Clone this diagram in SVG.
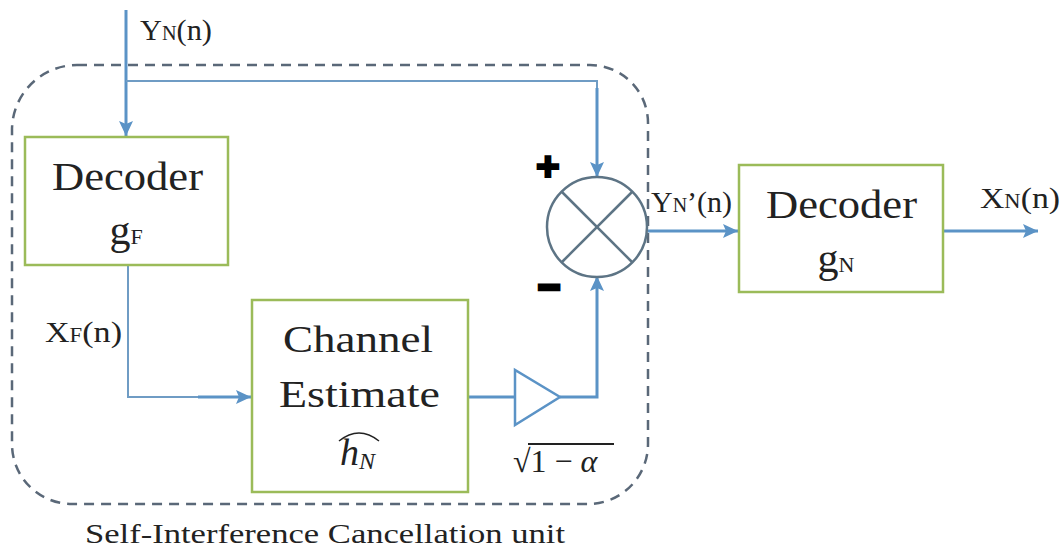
<svg xmlns="http://www.w3.org/2000/svg" width="1064" height="551" viewBox="0 0 1064 551">
<style>
.bg{fill:#ffffff}
.box{fill:#ffffff;stroke:#9bbb59;stroke-width:2.5}
.wire{fill:none;stroke:#5b93c6;stroke-width:3}
.thin{fill:none;stroke:#6f9cc4;stroke-width:2}
.dash{fill:none;stroke:#5a6878;stroke-width:2.5;stroke-dasharray:10 7}
text{font-family:'Liberation Serif','DejaVu Serif',serif}
.t{fill:#222222}
.sym{stroke:#5d7485;stroke-width:2.5;fill:#ffffff}
</style>
<defs>
<marker id="ah" markerUnits="userSpaceOnUse" markerWidth="16" markerHeight="14" refX="15" refY="7" orient="auto">
<path d="M0,0 L15,7 L0,14 L3,7 z" fill="#5b93c6"/>
</marker>
</defs>
<rect class="bg" x="0" y="0" width="1064" height="551"/>

<g id="sic-unit">
<path class="dash" d="M77,65 H590 A58,58 0 0 1 648,123 V444 A60,60 0 0 1 588,504 H72 A60,60 0 0 1 12,444 V130 A65,65 0 0 1 77,65 Z"/>
<text class="t" font-family="Liberation Serif, serif" x="85" y="543" font-size="27" textLength="480" lengthAdjust="spacingAndGlyphs">Self-Interference Cancellation unit</text>
</g>

<g id="connectors">
<path class="wire" d="M126,10 V136" marker-end="url(#ah)"/>
<path class="thin" d="M126,81 H597 V90"/>
<path class="wire" d="M597,88 V177" marker-end="url(#ah)"/>
<path class="thin" d="M128,265 V397 H200"/>
<path class="wire" d="M198,397 H251" marker-end="url(#ah)"/>
<path class="wire" d="M468,397 H515"/>
<path class="wire" d="M560,397 H597 V276" marker-end="url(#ah)"/>
<path class="wire" d="M648,231 H738" marker-end="url(#ah)"/>
<path class="wire" d="M943,231 H1038" marker-end="url(#ah)"/>
</g>

<g id="label-yn">
<text class="t" font-family="Liberation Serif, serif" x="140" y="40" font-size="30" textLength="72" lengthAdjust="spacingAndGlyphs">Y<tspan font-size="20">N</tspan>(n)</text>
</g>
<g id="label-xf">
<text class="t" font-family="Liberation Serif, serif" x="45" y="342" font-size="30" textLength="77" lengthAdjust="spacingAndGlyphs">X<tspan font-size="20">F</tspan>(n)</text>
</g>
<g id="label-ynp">
<text class="t" font-family="Liberation Serif, serif" x="651" y="212" font-size="30" textLength="81" lengthAdjust="spacingAndGlyphs">Y<tspan font-size="20">N</tspan>’(n)</text>
</g>
<g id="label-xn">
<text class="t" font-family="Liberation Serif, serif" x="980" y="208" font-size="30" textLength="80" lengthAdjust="spacingAndGlyphs">X<tspan font-size="20">N</tspan>(n)</text>
</g>

<g id="decoder-gf">
<rect class="box" x="25" y="137" width="203" height="128"/>
<text class="t" font-family="Liberation Serif, serif" x="52" y="190" font-size="41" textLength="151" lengthAdjust="spacingAndGlyphs">Decoder</text>
<text class="t" font-family="Liberation Serif, serif" x="126" y="244" font-size="42" text-anchor="middle">g<tspan font-size="22">F</tspan></text>
</g>

<g id="channel-estimate">
<rect class="box" x="252" y="300" width="216" height="192"/>
<text class="t" font-family="Liberation Serif, serif" x="283" y="352" font-size="37" textLength="150" lengthAdjust="spacingAndGlyphs">Channel</text>
<text class="t" font-family="Liberation Serif, serif" x="279" y="407" font-size="37" textLength="161" lengthAdjust="spacingAndGlyphs">Estimate</text>
<text class="t" font-family="Liberation Serif, serif" x="340" y="465" font-size="38" font-style="italic">h<tspan font-size="24" dy="4">N</tspan></text>
<path d="M339,441 Q359,425 379,441" fill="none" stroke="#222222" stroke-width="1.5"/>
</g>

<g id="gain">
<polygon points="515,370 515,425 560,397" fill="#ffffff" stroke="#5b93c6" stroke-width="2.5"/>
<text class="t" font-family="Liberation Serif, serif" x="513" y="472" font-size="32">√<tspan>1 − </tspan><tspan font-style="italic">α</tspan></text>
<line x1="528" y1="444" x2="614" y2="444" stroke="#222222" stroke-width="2"/>
</g>

<g id="summer">
<circle class="sym" cx="597" cy="227" r="50"/>
<line x1="562" y1="192" x2="632" y2="262" stroke="#5d7485" stroke-width="2.5"/>
<line x1="632" y1="192" x2="562" y2="262" stroke="#5d7485" stroke-width="2.5"/>
<text x="548" y="180" font-family="DejaVu Sans" font-weight="bold" font-size="40" text-anchor="middle" fill="#000000" stroke="#000000" stroke-width="4">+</text>
<text x="549" y="300" font-family="DejaVu Sans" font-weight="bold" font-size="38" text-anchor="middle" fill="#000000" stroke="#000000" stroke-width="5">−</text>
</g>

<g id="decoder-gn">
<rect class="box" x="739" y="165" width="204" height="127"/>
<text class="t" font-family="Liberation Serif, serif" x="766" y="218" font-size="41" textLength="151" lengthAdjust="spacingAndGlyphs">Decoder</text>
<text class="t" font-family="Liberation Serif, serif" x="836" y="272" font-size="42" text-anchor="middle">g<tspan font-size="22">N</tspan></text>
</g>
</svg>
